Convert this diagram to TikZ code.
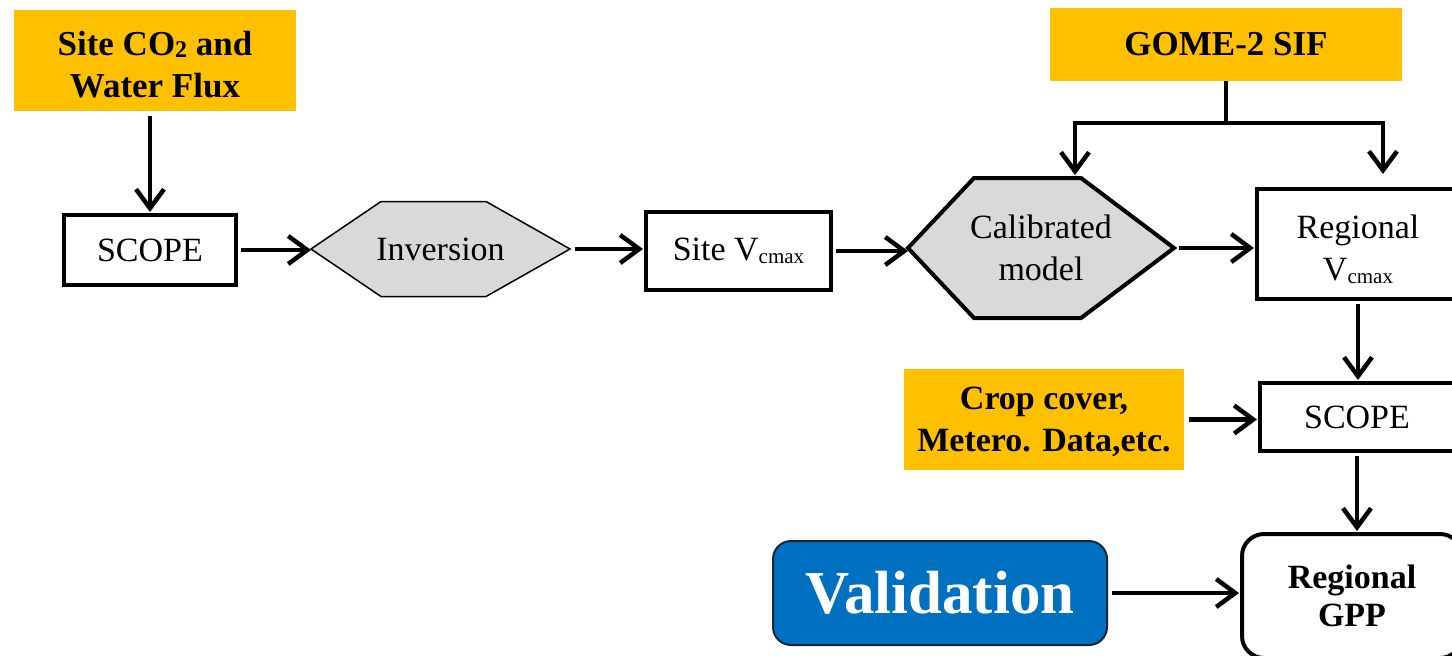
\documentclass[tikz,border=0pt]{standalone}
\usepackage{fontspec}
\setmainfont{Liberation Serif}
\usetikzlibrary{arrows.meta,backgrounds}
\definecolor{inputorange}{HTML}{FFC000}
\definecolor{hexgray}{HTML}{D9D9D9}
\definecolor{valblue}{HTML}{0070C0}
\definecolor{valedge}{HTML}{1C2636}
% V with the small "cmax" subscript
\newcommand{\vcmax}{V\raisebox{-3pt}{\fontsize{21}{21}\selectfont cmax}}
\begin{document}
\begin{tikzpicture}[x=1pt,y=-1pt,
  every node/.style={align=center, inner sep=0pt, outer sep=0pt},
  txt/.style={font=\fontsize{34}{42}\selectfont},
  box/.style={txt, draw, line width=4pt, fill=white},
  inbox/.style={fill=inputorange, font=\bfseries\fontsize{35}{42}\selectfont},
  arr/.style={line width=4.5pt, -{Straight Barb[length=19pt,width=28pt]},
              shorten <=5pt, shorten >=3pt},
  link/.style={line width=4.5pt}]

\useasboundingbox (0,0) rectangle (1452,656);
\begin{scope}[on background layer]
  \fill[white] (0,0) rectangle (1452,656);
\end{scope}

% input data boxes (label text set slightly low in its box)
\node[inbox, minimum width=282pt, minimum height=101pt] (flux) at (155,60.5) {};
\node[inbox, fill=none] (fluxtext) at (155,65)
  {Site CO\raisebox{-2pt}{\fontsize{24}{24}\selectfont 2} and\\Water Flux};
\node[inbox, minimum width=352pt, minimum height=73pt] (gome) at (1226,44.5)
  {GOME-2 SIF};
\node[inbox, minimum width=280pt, minimum height=101pt] (crop) at (1044,419.5) {};
\node[inbox, fill=none, font=\bfseries\fontsize{34}{42}\selectfont] (croptext) at (1044,422)
  {Crop cover,\\Metero. Data,etc.};

% model chain
\node[box, minimum width=172pt, minimum height=70pt] (scope1) at (150,250) {SCOPE};
\node[txt, minimum width=259pt, minimum height=95pt] (inv) at (440.5,249) {Inversion};
\node[box, minimum width=185pt, minimum height=78pt] (svc) at (738.5,251) {Site \vcmax};
\node[txt, minimum width=266pt, minimum height=140pt] (cal) at (1041,248) {Calibrated\\model};
\node[box, minimum width=202pt, minimum height=110pt] (rv) at (1358,244) {};
\node[txt] (rvtext) at (1358,249) {Regional\\\vcmax};
\node[box, minimum width=194pt, minimum height=68pt] (scope2) at (1357,417) {SCOPE};
\node[box, rounded corners=22pt, minimum width=220pt, minimum height=124pt,
      font=\bfseries\fontsize{34}{38}\selectfont] (gpp) at (1352,596) {Regional\\GPP};
\node[draw=valedge, line width=2pt, fill=valblue, rounded corners=18pt, text=white,
      minimum width=334pt, minimum height=104pt,
      font=\bfseries\fontsize{61}{61}\selectfont] (val) at (940,593) {Validation};

% hexagon outlines behind the two process nodes
\begin{scope}[on background layer]
  \draw[fill=hexgray, line width=1.5pt, line join=miter]
    (inv.west) -- ([xshift=70pt]inv.north west) -- ([xshift=-84pt]inv.north east)
    -- (inv.east) -- ([xshift=-84pt]inv.south east) -- ([xshift=70pt]inv.south west) -- cycle;
  \draw[fill=hexgray, line width=4pt, line join=miter]
    (cal.west) -- ([xshift=66pt]cal.north west) -- ([xshift=-93pt]cal.north east)
    -- (cal.east) -- ([xshift=-93pt]cal.south east) -- ([xshift=66pt]cal.south west) -- cycle;
\end{scope}

% GOME-2 branching
\coordinate (jL) at (1075,123);
\coordinate (jR) at (1383,123);
\coordinate (calIn) at (1075,175);
\coordinate (rvIn) at (1383,174);
\draw[link] (gome.south) -- (gome.south |- jL);
\draw[link, line cap=rect] (jL) -- (jR);
\draw[arr, shorten <=0pt, shorten >=0pt] (jL) -- (calIn);
\draw[arr, shorten <=0pt, shorten >=0pt] (jR) -- (rvIn);

% connectors
\draw[arr] (flux.south -| scope1.north) -- (scope1.north);
\draw[arr, shorten >=0pt] (scope1.east) -- (scope1.east -| inv.west);
\draw[arr] (inv.east) -- (inv.east -| svc.west);
\draw[arr, shorten >=0pt] (svc.east) -- (svc.east -| cal.west);
\draw[arr] (cal.east) -- (cal.east -| rv.west);
\draw[arr] (rv.south) -- (rv.south |- scope2.north);
\draw[arr] (crop.east) -- (crop.east -| scope2.west);
\draw[arr] (scope2.south) -- (scope2.south |- gpp.north);
\draw[arr] (val.east) -- (val.east -| gpp.west);
\end{tikzpicture}
\end{document}
